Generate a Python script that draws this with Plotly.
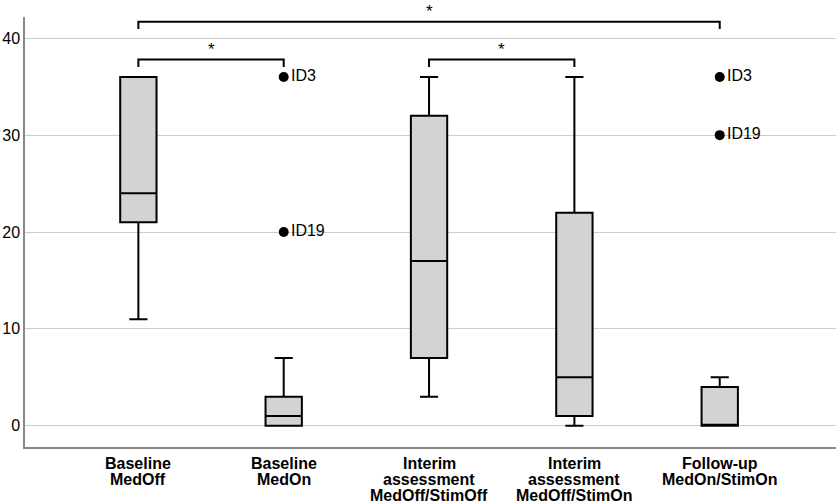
import plotly.graph_objects as go

# Groups on the x axis
groups = ["Baseline\nMedOff", "Baseline\nMedOn",
          "Interim\nassessment\nMedOff/StimOff",
          "Interim\nassessment\nMedOff/StimOn",
          "Follow-up\nMedOn/StimOn"]

# Box statistics per group
lower_whisker = [11, 0, 3, 0, 0]
q1 = [21, 0, 7, 1, 0]
median = [24, 1, 17, 5, 0]
q3 = [36, 3, 32, 22, 4]
upper_whisker = [36, 7, 36, 36, 5]

# Outliers: group index, value, label
outlier_group = [1, 1, 4, 4]
outlier_value = [36, 20, 36, 30]
outlier_label = ["ID3", "ID19", "ID3", "ID19"]

# Significance brackets: (from group, to group, height)
comparisons = [(0, 4, 41.7), (0, 1, 37.8), (2, 3, 37.8)]

fig = go.Figure()

for i in range(len(groups)):
    fig.add_trace(go.Box(
        x=[i], q1=[q1[i]], median=[median[i]], q3=[q3[i]],
        lowerfence=[lower_whisker[i]], upperfence=[upper_whisker[i]],
        width=0.25, whiskerwidth=0.5,
        fillcolor="#d3d3d3", line=dict(color="black", width=2),
        boxpoints=False, showlegend=False))

# Outlier points
fig.add_trace(go.Scatter(
    x=outlier_group, y=outlier_value, mode="markers+text",
    text=outlier_label, textposition="middle right",
    marker=dict(color="black", size=10),
    textfont=dict(size=16, color="black"), showlegend=False))

# Brackets with stars
for a, b, h in comparisons:
    fig.add_trace(go.Scatter(
        x=[a, a, b, b], y=[h - 0.75, h, h, h - 0.75], mode="lines",
        line=dict(color="black", width=2), showlegend=False, hoverinfo="skip"))
    fig.add_annotation(x=(a + b) / 2, y=h, text="*", showarrow=False,
                       yanchor="bottom", yshift=-1,
                       font=dict(size=17, color="black"))

# Group labels under the axis, one line at a time (tight line spacing)
for i, g in enumerate(groups):
    for k, line in enumerate(g.split("\n")):
        fig.add_annotation(x=i, xref="x", y=0, yref="paper", text="<b>" + line + "</b>",
                           showarrow=False, yanchor="top", yshift=-6 - 16 * k,
                           font=dict(size=16, color="black"))

fig.update_layout(
    width=836, height=502,
    margin=dict(l=25, r=0, t=17, b=55),
    paper_bgcolor="white", plot_bgcolor="white",
    font=dict(family="Liberation Sans, Arial", size=16, color="black"),
    xaxis=dict(range=[-0.78, 4.8], showticklabels=False, automargin=False,
               showgrid=False, zeroline=False, showline=True,
               linecolor="#888888", linewidth=1.5, ticks=""),
    yaxis=dict(range=[-2.2, 42.2], tickvals=[0, 10, 20, 30, 40], automargin=False,
               showgrid=True, gridcolor="#cccccc", gridwidth=1.2,
               zeroline=False, showline=True, linecolor="#888888",
               linewidth=1.5, ticks="", tickfont=dict(size=16)),
)

# drop the default 8px page margin so the figure fills the window
fig.write_html("out.html", config={"displayModeBar": False},
               post_script="document.body.style.margin='0';")
